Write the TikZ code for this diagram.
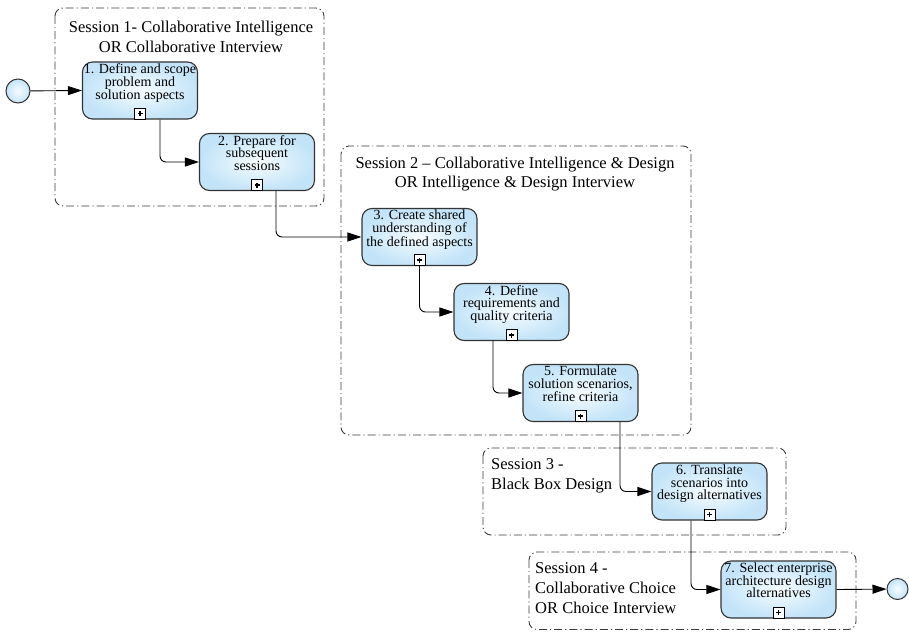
\documentclass[tikz,border=0pt]{standalone}
\usepackage{fontspec}
\setmainfont{Liberation Serif}
\usetikzlibrary{arrows.meta,calc}
\definecolor{boxin}{HTML}{F6FCFF}
\definecolor{boxout}{HTML}{C3E4F8}
\definecolor{boxline}{HTML}{333333}
\definecolor{grpline}{HTML}{3C3C3C}
\begin{document}
\begin{tikzpicture}[x=1pt,y=-1pt,
  task/.style={draw=boxline, line width=1.1pt, rounded corners=10pt, inner color=boxin, outer color=boxout,
    minimum width=115pt, minimum height=57pt, inner sep=0pt},
  tasktext/.style={font=\fontsize{14}{12.8}\selectfont, align=center, inner sep=0pt, anchor=north},
  plusmark/.style={draw=black, fill=white, line width=0.9pt, minimum size=11pt, inner sep=0pt, anchor=south,
    path picture={\draw[line width=1.6pt] ([xshift=-2.5pt]path picture bounding box.center) -- ([xshift=2.5pt]path picture bounding box.center)
      ([yshift=-2.5pt]path picture bounding box.center) -- ([yshift=2.5pt]path picture bounding box.center);}},
  event/.style={circle, draw=boxline, line width=1pt, inner color=boxin, outer color=boxout, inner sep=0pt},
  flow/.style={draw=black, line width=0.9pt, rounded corners=6pt, -{Triangle[length=14pt,width=9pt]}},
  grp/.style={draw=grpline, line width=0.9pt, rounded corners=8pt, dash pattern=on 8pt off 3pt on 1.2pt off 3pt},
  title/.style={font=\fontsize{16.5}{20}\selectfont, inner sep=0pt}
]
\useasboundingbox (0,0) rectangle (909,631);

% groups
\draw[grp] (55,8) rectangle (324,206);
\draw[grp] (341,146) rectangle (691,435);
\draw[grp] (483,448) rectangle (786,535);
\draw[grp] (529,552) rectangle (856,629.5);

\node[title, align=center] (s1) at (191,37) {Session 1- Collaborative Intelligence\\OR Collaborative Interview};
\node[title, align=center, font=\fontsize{16.5}{18.5}\selectfont] (s2) at (515,174) {Session 2 – Collaborative Intelligence \& Design\\OR Intelligence \& Design Interview};
\node[title, align=left, anchor=west] (s3) at (491,476) {Session 3 -\\Black Box Design};
\node[title, align=left, anchor=west] (s4) at (535,588) {Session 4 -\\Collaborative Choice\\OR Choice Interview};

% events
\node[event, minimum size=24pt] (start) at (18,91) {};
\node[event, minimum size=21pt] (end) at (897.5,589) {};

% tasks
\node[task] (b1) at (140,90.5) {};
\node[task] (b2) at (257,162) {};
\node[task] (b3) at (419.5,237) {};
\node[task] (b4) at (511.5,312) {};
\node[task] (b5) at (580.5,393) {};
\node[task] (b6) at (709.5,491.5) {};
\node[task] (b7) at (778.5,589.5) {};

\node[tasktext] (t1) at ([yshift=-2pt]b1.north) {1. Define and scope\\problem and\\solution aspects};
\node[tasktext] (t2) at ([yshift=-2pt]b2.north) {2. Prepare for\\subsequent\\sessions};
\node[tasktext] (t3) at ([yshift=-2pt]b3.north) {3. Create shared\\understanding of\\the defined aspects};
\node[tasktext] (t4) at ([yshift=-2pt]b4.north) {4. Define\\requirements and\\quality criteria};
\node[tasktext] (t5) at ([yshift=-2pt]b5.north) {5. Formulate\\solution scenarios,\\refine criteria};
\node[tasktext] (t6) at ([yshift=-2pt]b6.north) {6. Translate\\scenarios into\\design alternatives};
\node[tasktext] (t7) at ([yshift=-2pt]b7.north) {7. Select enterprise\\architecture design\\alternatives};

\foreach \b in {b1,b2,b3,b4,b5,b6,b7}{
  \node[plusmark] (m\b) at (\b.south) {};
}

% flows
\draw[flow] (start) -- (b1.west);
\draw[flow] ([xshift=20pt]b1.south) |- (b2.west);
\draw[flow] ([xshift=19pt]b2.south) |- (b3.west);
\draw[flow] (mb3.south) |- (b4.west);
\draw[flow] ([xshift=-18.5pt]b4.south) |- (b5.west);
\draw[flow] ([xshift=39.5pt]b5.south) |- (b6.west);
\draw[flow] ([xshift=-18.5pt]b6.south) |- (b7.west);
\draw[flow] (b7.east) -- (end);
\end{tikzpicture}
\end{document}
